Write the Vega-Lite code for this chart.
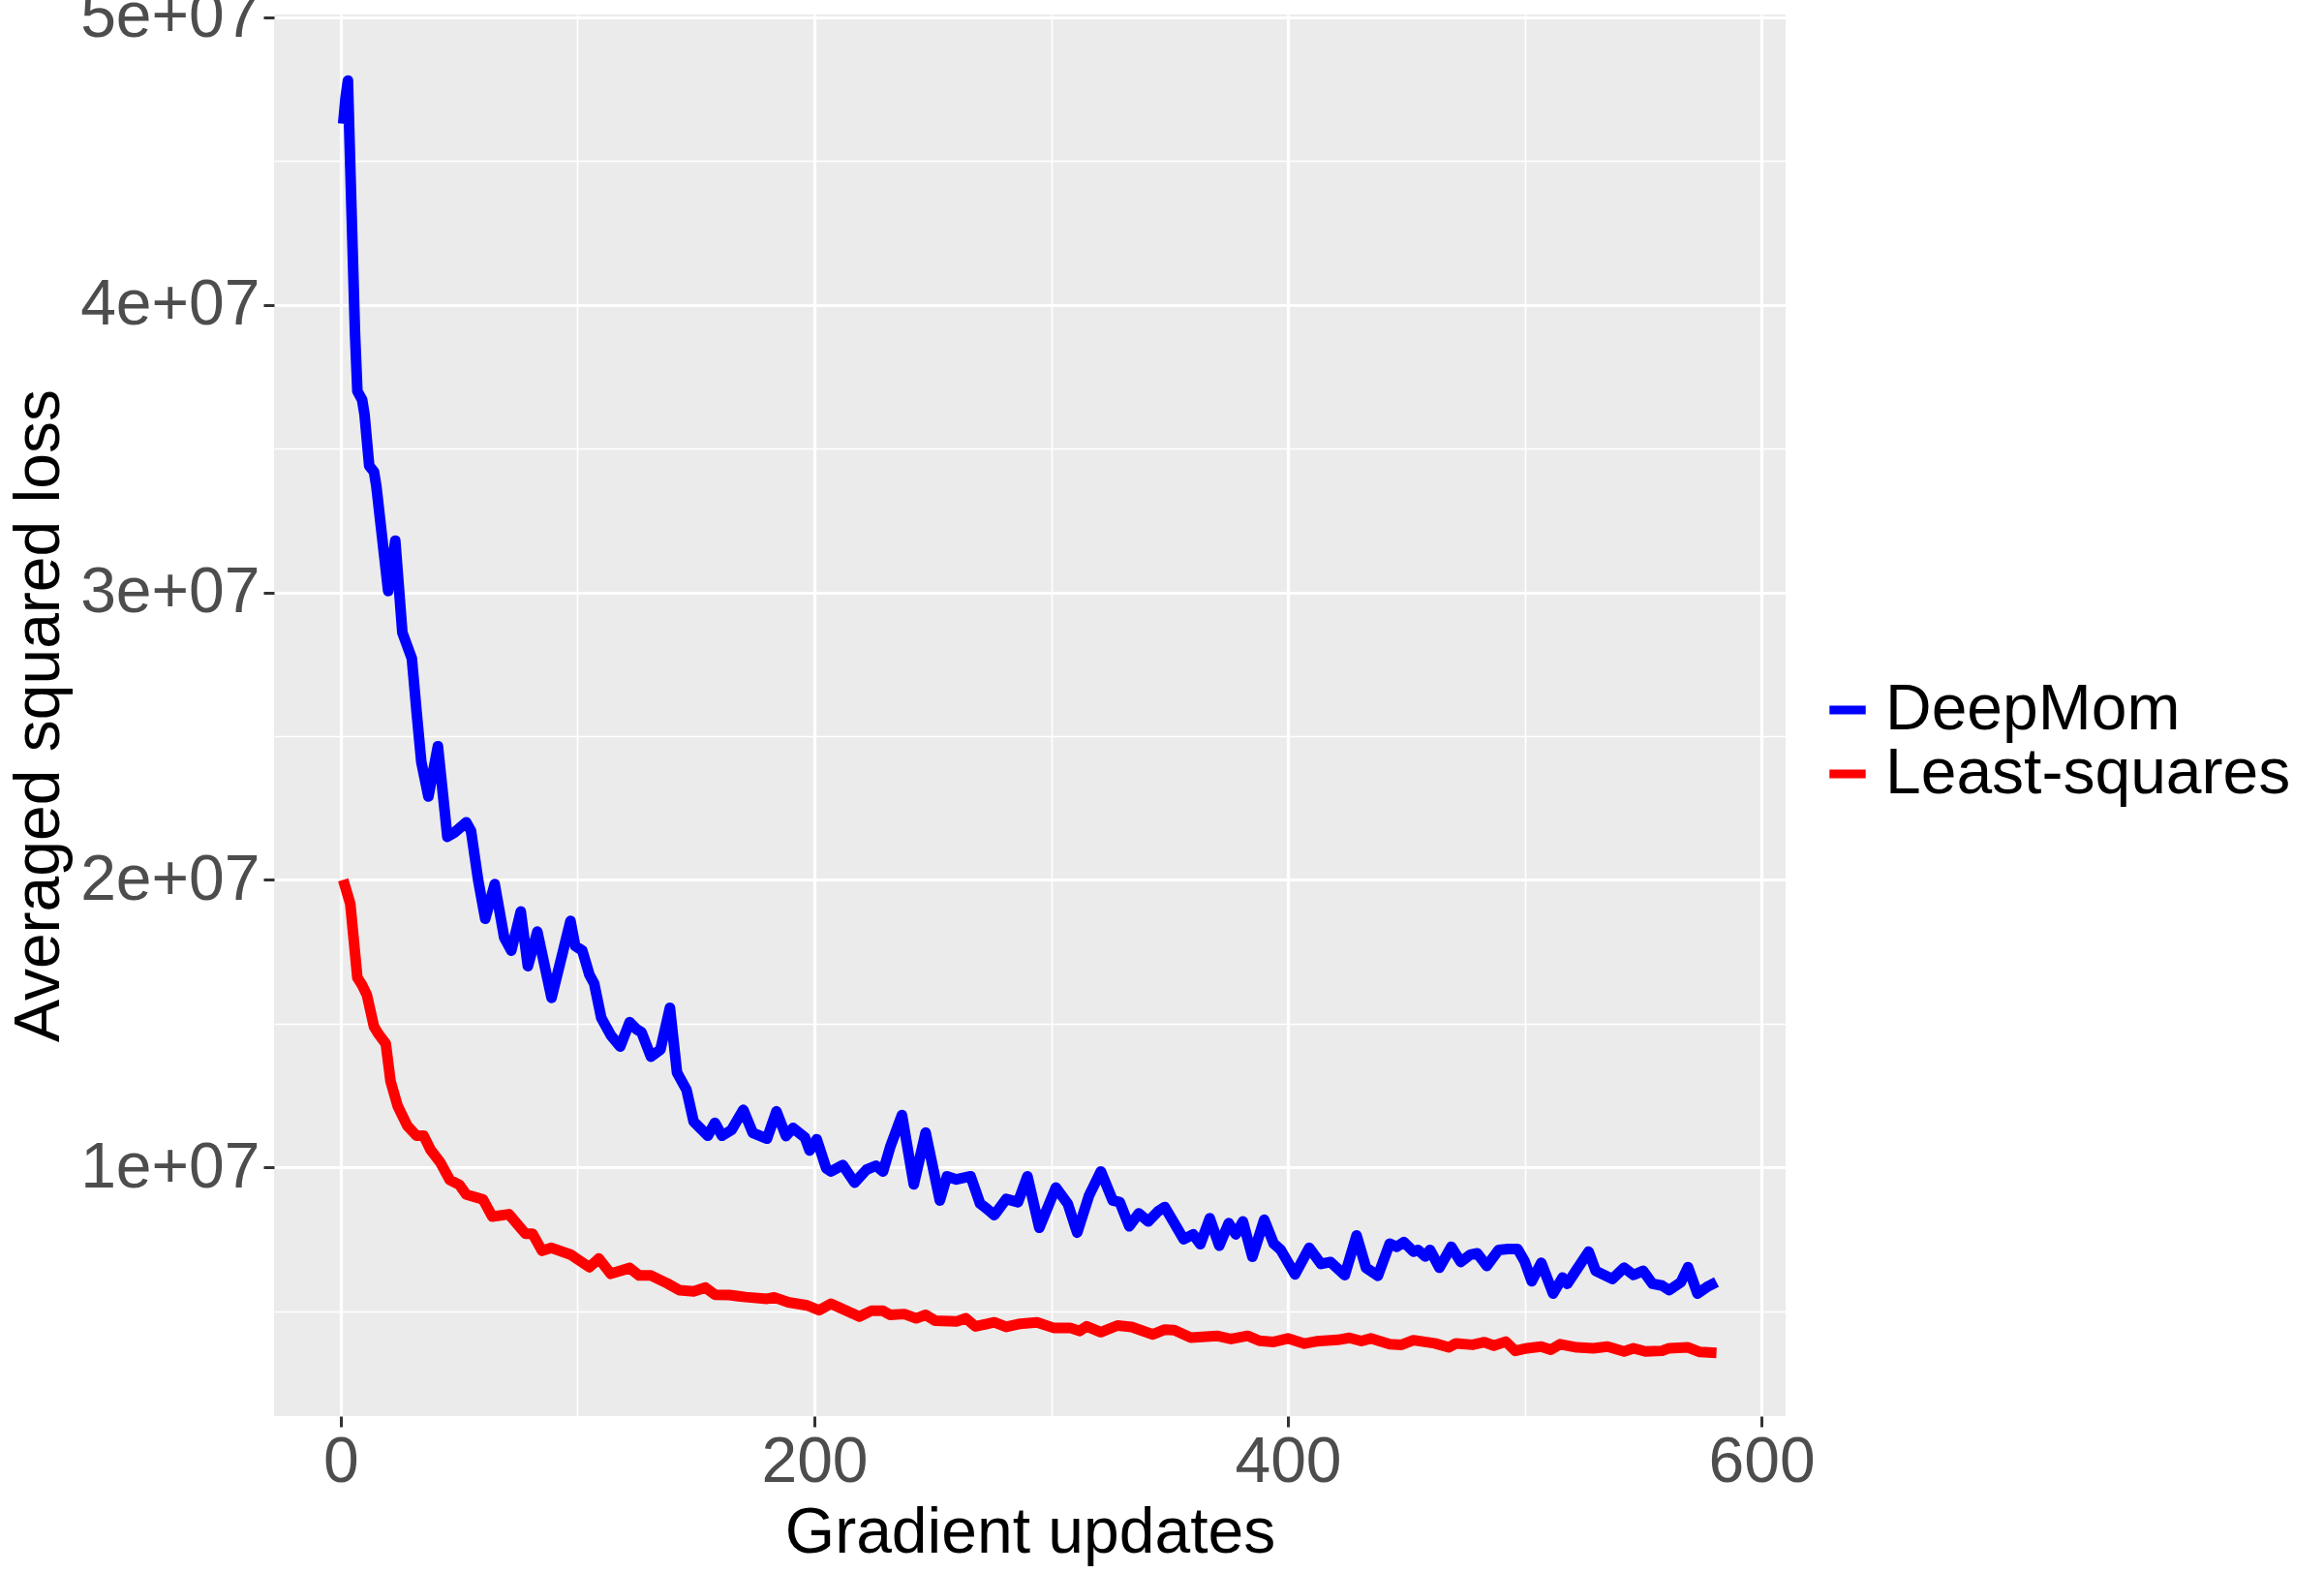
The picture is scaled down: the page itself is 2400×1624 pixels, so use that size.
{
  "$schema": "https://vega.github.io/schema/vega-lite/v6.json",
  "width": 1561,
  "height": 1447,
  "autosize": {"type": "none"},
  "padding": {"left": 283, "top": 15, "right": 556, "bottom": 162},
  "background": "white",
  "view": {"fill": "#EBEBEB", "stroke": null},
  "config": {
    "font": "Liberation Sans",
    "axis": {
      "domain": false,
      "labelFont": "Liberation Sans",
      "titleFont": "Liberation Sans",
      "labelFontSize": 66,
      "titleFontSize": 66,
      "labelColor": "#4D4D4D",
      "titleColor": "#000000",
      "titleFontWeight": "normal",
      "gridColor": "#FFFFFF",
      "gridOpacity": 1,
      "tickColor": "#333333",
      "tickWidth": 3,
      "tickSize": 11,
      "labelPadding": 4,
      "labelLimit": 1000,
      "labelFlush": false,
      "labelOverlap": false,
      "labelBound": false
    },
    "legend": {
      "labelFont": "Liberation Sans",
      "labelFontSize": 66,
      "labelColor": "#000000",
      "labelLimit": 1000
    }
  },
  "data": {
    "values": [
      {"step": 1, "loss": 46300000, "method": "DeepMom"},
      {"step": 2, "loss": 47200000, "method": "DeepMom"},
      {"step": 3, "loss": 47800000, "method": "DeepMom"},
      {"step": 4, "loss": 44800000, "method": "DeepMom"},
      {"step": 5, "loss": 41900000, "method": "DeepMom"},
      {"step": 6, "loss": 39000000, "method": "DeepMom"},
      {"step": 7, "loss": 37000000, "method": "DeepMom"},
      {"step": 9, "loss": 36700000, "method": "DeepMom"},
      {"step": 10, "loss": 36200000, "method": "DeepMom"},
      {"step": 12, "loss": 34400000, "method": "DeepMom"},
      {"step": 14, "loss": 34200000, "method": "DeepMom"},
      {"step": 15, "loss": 33700000, "method": "DeepMom"},
      {"step": 20, "loss": 30050000, "method": "DeepMom"},
      {"step": 23, "loss": 31800000, "method": "DeepMom"},
      {"step": 26, "loss": 28600000, "method": "DeepMom"},
      {"step": 30, "loss": 27700000, "method": "DeepMom"},
      {"step": 32, "loss": 25850000, "method": "DeepMom"},
      {"step": 34, "loss": 24100000, "method": "DeepMom"},
      {"step": 37, "loss": 22900000, "method": "DeepMom"},
      {"step": 41, "loss": 24650000, "method": "DeepMom"},
      {"step": 45, "loss": 21500000, "method": "DeepMom"},
      {"step": 48, "loss": 21650000, "method": "DeepMom"},
      {"step": 53, "loss": 22000000, "method": "DeepMom"},
      {"step": 55, "loss": 21700000, "method": "DeepMom"},
      {"step": 58, "loss": 20000000, "method": "DeepMom"},
      {"step": 61, "loss": 18650000, "method": "DeepMom"},
      {"step": 65, "loss": 19850000, "method": "DeepMom"},
      {"step": 69, "loss": 18000000, "method": "DeepMom"},
      {"step": 72, "loss": 17540000, "method": "DeepMom"},
      {"step": 76, "loss": 18900000, "method": "DeepMom"},
      {"step": 79, "loss": 17000000, "method": "DeepMom"},
      {"step": 83, "loss": 18200000, "method": "DeepMom"},
      {"step": 89, "loss": 15900000, "method": "DeepMom"},
      {"step": 97, "loss": 18570000, "method": "DeepMom"},
      {"step": 99, "loss": 17700000, "method": "DeepMom"},
      {"step": 102, "loss": 17540000, "method": "DeepMom"},
      {"step": 105, "loss": 16700000, "method": "DeepMom"},
      {"step": 107, "loss": 16400000, "method": "DeepMom"},
      {"step": 110, "loss": 15200000, "method": "DeepMom"},
      {"step": 114, "loss": 14600000, "method": "DeepMom"},
      {"step": 118, "loss": 14200000, "method": "DeepMom"},
      {"step": 122, "loss": 15050000, "method": "DeepMom"},
      {"step": 125, "loss": 14800000, "method": "DeepMom"},
      {"step": 127, "loss": 14700000, "method": "DeepMom"},
      {"step": 131, "loss": 13850000, "method": "DeepMom"},
      {"step": 135, "loss": 14100000, "method": "DeepMom"},
      {"step": 139, "loss": 15550000, "method": "DeepMom"},
      {"step": 142, "loss": 13300000, "method": "DeepMom"},
      {"step": 146, "loss": 12700000, "method": "DeepMom"},
      {"step": 149, "loss": 11600000, "method": "DeepMom"},
      {"step": 155, "loss": 11100000, "method": "DeepMom"},
      {"step": 158, "loss": 11550000, "method": "DeepMom"},
      {"step": 161, "loss": 11100000, "method": "DeepMom"},
      {"step": 165, "loss": 11300000, "method": "DeepMom"},
      {"step": 170, "loss": 12000000, "method": "DeepMom"},
      {"step": 174, "loss": 11200000, "method": "DeepMom"},
      {"step": 177, "loss": 11100000, "method": "DeepMom"},
      {"step": 180, "loss": 11000000, "method": "DeepMom"},
      {"step": 184, "loss": 11950000, "method": "DeepMom"},
      {"step": 188, "loss": 11090000, "method": "DeepMom"},
      {"step": 191, "loss": 11370000, "method": "DeepMom"},
      {"step": 196, "loss": 11040000, "method": "DeepMom"},
      {"step": 198, "loss": 10590000, "method": "DeepMom"},
      {"step": 201, "loss": 10980000, "method": "DeepMom"},
      {"step": 205, "loss": 9970000, "method": "DeepMom"},
      {"step": 207, "loss": 9860000, "method": "DeepMom"},
      {"step": 212, "loss": 10080000, "method": "DeepMom"},
      {"step": 217, "loss": 9470000, "method": "DeepMom"},
      {"step": 222, "loss": 9920000, "method": "DeepMom"},
      {"step": 226, "loss": 10060000, "method": "DeepMom"},
      {"step": 229, "loss": 9860000, "method": "DeepMom"},
      {"step": 232, "loss": 10700000, "method": "DeepMom"},
      {"step": 237, "loss": 11820000, "method": "DeepMom"},
      {"step": 242, "loss": 9410000, "method": "DeepMom"},
      {"step": 247, "loss": 11210000, "method": "DeepMom"},
      {"step": 253, "loss": 8850000, "method": "DeepMom"},
      {"step": 256, "loss": 9690000, "method": "DeepMom"},
      {"step": 260, "loss": 9580000, "method": "DeepMom"},
      {"step": 266, "loss": 9690000, "method": "DeepMom"},
      {"step": 270, "loss": 8740000, "method": "DeepMom"},
      {"step": 272, "loss": 8620000, "method": "DeepMom"},
      {"step": 276, "loss": 8340000, "method": "DeepMom"},
      {"step": 281, "loss": 8900000, "method": "DeepMom"},
      {"step": 286, "loss": 8790000, "method": "DeepMom"},
      {"step": 290, "loss": 9690000, "method": "DeepMom"},
      {"step": 295, "loss": 7900000, "method": "DeepMom"},
      {"step": 302, "loss": 9300000, "method": "DeepMom"},
      {"step": 307, "loss": 8740000, "method": "DeepMom"},
      {"step": 311, "loss": 7730000, "method": "DeepMom"},
      {"step": 316, "loss": 9020000, "method": "DeepMom"},
      {"step": 321, "loss": 9860000, "method": "DeepMom"},
      {"step": 326, "loss": 8850000, "method": "DeepMom"},
      {"step": 329, "loss": 8790000, "method": "DeepMom"},
      {"step": 333, "loss": 7950000, "method": "DeepMom"},
      {"step": 337, "loss": 8400000, "method": "DeepMom"},
      {"step": 341, "loss": 8120000, "method": "DeepMom"},
      {"step": 345, "loss": 8460000, "method": "DeepMom"},
      {"step": 348, "loss": 8620000, "method": "DeepMom"},
      {"step": 352, "loss": 8060000, "method": "DeepMom"},
      {"step": 356, "loss": 7500000, "method": "DeepMom"},
      {"step": 360, "loss": 7670000, "method": "DeepMom"},
      {"step": 363, "loss": 7330000, "method": "DeepMom"},
      {"step": 367, "loss": 8230000, "method": "DeepMom"},
      {"step": 371, "loss": 7280000, "method": "DeepMom"},
      {"step": 375, "loss": 8060000, "method": "DeepMom"},
      {"step": 378, "loss": 7670000, "method": "DeepMom"},
      {"step": 381, "loss": 8120000, "method": "DeepMom"},
      {"step": 385, "loss": 6890000, "method": "DeepMom"},
      {"step": 390, "loss": 8180000, "method": "DeepMom"},
      {"step": 394, "loss": 7350000, "method": "DeepMom"},
      {"step": 397, "loss": 7130000, "method": "DeepMom"},
      {"step": 403, "loss": 6280000, "method": "DeepMom"},
      {"step": 409, "loss": 7200000, "method": "DeepMom"},
      {"step": 414, "loss": 6640000, "method": "DeepMom"},
      {"step": 418, "loss": 6710000, "method": "DeepMom"},
      {"step": 424, "loss": 6250000, "method": "DeepMom"},
      {"step": 429, "loss": 7630000, "method": "DeepMom"},
      {"step": 433, "loss": 6510000, "method": "DeepMom"},
      {"step": 438, "loss": 6230000, "method": "DeepMom"},
      {"step": 443, "loss": 7350000, "method": "DeepMom"},
      {"step": 446, "loss": 7240000, "method": "DeepMom"},
      {"step": 449, "loss": 7400000, "method": "DeepMom"},
      {"step": 453, "loss": 7070000, "method": "DeepMom"},
      {"step": 455, "loss": 7130000, "method": "DeepMom"},
      {"step": 458, "loss": 6900000, "method": "DeepMom"},
      {"step": 460, "loss": 7130000, "method": "DeepMom"},
      {"step": 464, "loss": 6510000, "method": "DeepMom"},
      {"step": 469, "loss": 7240000, "method": "DeepMom"},
      {"step": 473, "loss": 6710000, "method": "DeepMom"},
      {"step": 477, "loss": 6960000, "method": "DeepMom"},
      {"step": 480, "loss": 7010000, "method": "DeepMom"},
      {"step": 484, "loss": 6570000, "method": "DeepMom"},
      {"step": 489, "loss": 7130000, "method": "DeepMom"},
      {"step": 493, "loss": 7160000, "method": "DeepMom"},
      {"step": 497, "loss": 7160000, "method": "DeepMom"},
      {"step": 500, "loss": 6730000, "method": "DeepMom"},
      {"step": 503, "loss": 6040000, "method": "DeepMom"},
      {"step": 507, "loss": 6680000, "method": "DeepMom"},
      {"step": 512, "loss": 5610000, "method": "DeepMom"},
      {"step": 516, "loss": 6170000, "method": "DeepMom"},
      {"step": 518, "loss": 5950000, "method": "DeepMom"},
      {"step": 522, "loss": 6450000, "method": "DeepMom"},
      {"step": 527, "loss": 7070000, "method": "DeepMom"},
      {"step": 530, "loss": 6400000, "method": "DeepMom"},
      {"step": 537, "loss": 6120000, "method": "DeepMom"},
      {"step": 542, "loss": 6510000, "method": "DeepMom"},
      {"step": 546, "loss": 6260000, "method": "DeepMom"},
      {"step": 550, "loss": 6400000, "method": "DeepMom"},
      {"step": 554, "loss": 5950000, "method": "DeepMom"},
      {"step": 558, "loss": 5890000, "method": "DeepMom"},
      {"step": 561, "loss": 5730000, "method": "DeepMom"},
      {"step": 566, "loss": 6010000, "method": "DeepMom"},
      {"step": 569, "loss": 6530000, "method": "DeepMom"},
      {"step": 573, "loss": 5610000, "method": "DeepMom"},
      {"step": 577, "loss": 5840000, "method": "DeepMom"},
      {"step": 581, "loss": 6010000, "method": "DeepMom"},
      {"step": 1, "loss": 20000000, "method": "Least-squares"},
      {"step": 4, "loss": 19170000, "method": "Least-squares"},
      {"step": 7, "loss": 16600000, "method": "Least-squares"},
      {"step": 9, "loss": 16340000, "method": "Least-squares"},
      {"step": 11, "loss": 16000000, "method": "Least-squares"},
      {"step": 14, "loss": 14900000, "method": "Least-squares"},
      {"step": 16, "loss": 14630000, "method": "Least-squares"},
      {"step": 19, "loss": 14300000, "method": "Least-squares"},
      {"step": 21, "loss": 13000000, "method": "Least-squares"},
      {"step": 24, "loss": 12140000, "method": "Least-squares"},
      {"step": 28, "loss": 11460000, "method": "Least-squares"},
      {"step": 32, "loss": 11100000, "method": "Least-squares"},
      {"step": 35, "loss": 11100000, "method": "Least-squares"},
      {"step": 38, "loss": 10600000, "method": "Least-squares"},
      {"step": 42, "loss": 10170000, "method": "Least-squares"},
      {"step": 46, "loss": 9570000, "method": "Least-squares"},
      {"step": 50, "loss": 9400000, "method": "Least-squares"},
      {"step": 53, "loss": 9060000, "method": "Least-squares"},
      {"step": 60, "loss": 8890000, "method": "Least-squares"},
      {"step": 64, "loss": 8290000, "method": "Least-squares"},
      {"step": 71, "loss": 8370000, "method": "Least-squares"},
      {"step": 78, "loss": 7690000, "method": "Least-squares"},
      {"step": 81, "loss": 7690000, "method": "Least-squares"},
      {"step": 85, "loss": 7100000, "method": "Least-squares"},
      {"step": 89, "loss": 7200000, "method": "Least-squares"},
      {"step": 97, "loss": 6970000, "method": "Least-squares"},
      {"step": 101, "loss": 6750000, "method": "Least-squares"},
      {"step": 105, "loss": 6530000, "method": "Least-squares"},
      {"step": 109, "loss": 6830000, "method": "Least-squares"},
      {"step": 114, "loss": 6300000, "method": "Least-squares"},
      {"step": 122, "loss": 6500000, "method": "Least-squares"},
      {"step": 126, "loss": 6240000, "method": "Least-squares"},
      {"step": 131, "loss": 6240000, "method": "Least-squares"},
      {"step": 138, "loss": 5960000, "method": "Least-squares"},
      {"step": 143, "loss": 5730000, "method": "Least-squares"},
      {"step": 149, "loss": 5690000, "method": "Least-squares"},
      {"step": 154, "loss": 5820000, "method": "Least-squares"},
      {"step": 158, "loss": 5570000, "method": "Least-squares"},
      {"step": 164, "loss": 5560000, "method": "Least-squares"},
      {"step": 171, "loss": 5490000, "method": "Least-squares"},
      {"step": 180, "loss": 5430000, "method": "Least-squares"},
      {"step": 183, "loss": 5480000, "method": "Least-squares"},
      {"step": 189, "loss": 5310000, "method": "Least-squares"},
      {"step": 197, "loss": 5200000, "method": "Least-squares"},
      {"step": 202, "loss": 5030000, "method": "Least-squares"},
      {"step": 207, "loss": 5260000, "method": "Least-squares"},
      {"step": 219, "loss": 4810000, "method": "Least-squares"},
      {"step": 224, "loss": 5010000, "method": "Least-squares"},
      {"step": 229, "loss": 5010000, "method": "Least-squares"},
      {"step": 232, "loss": 4870000, "method": "Least-squares"},
      {"step": 238, "loss": 4900000, "method": "Least-squares"},
      {"step": 243, "loss": 4750000, "method": "Least-squares"},
      {"step": 247, "loss": 4870000, "method": "Least-squares"},
      {"step": 251, "loss": 4670000, "method": "Least-squares"},
      {"step": 260, "loss": 4640000, "method": "Least-squares"},
      {"step": 264, "loss": 4750000, "method": "Least-squares"},
      {"step": 268, "loss": 4470000, "method": "Least-squares"},
      {"step": 276, "loss": 4610000, "method": "Least-squares"},
      {"step": 281, "loss": 4450000, "method": "Least-squares"},
      {"step": 287, "loss": 4560000, "method": "Least-squares"},
      {"step": 294, "loss": 4610000, "method": "Least-squares"},
      {"step": 301, "loss": 4420000, "method": "Least-squares"},
      {"step": 308, "loss": 4420000, "method": "Least-squares"},
      {"step": 312, "loss": 4310000, "method": "Least-squares"},
      {"step": 315, "loss": 4470000, "method": "Least-squares"},
      {"step": 321, "loss": 4270000, "method": "Least-squares"},
      {"step": 328, "loss": 4500000, "method": "Least-squares"},
      {"step": 334, "loss": 4450000, "method": "Least-squares"},
      {"step": 343, "loss": 4190000, "method": "Least-squares"},
      {"step": 348, "loss": 4360000, "method": "Least-squares"},
      {"step": 352, "loss": 4340000, "method": "Least-squares"},
      {"step": 359, "loss": 4080000, "method": "Least-squares"},
      {"step": 370, "loss": 4140000, "method": "Least-squares"},
      {"step": 376, "loss": 4030000, "method": "Least-squares"},
      {"step": 383, "loss": 4140000, "method": "Least-squares"},
      {"step": 388, "loss": 3970000, "method": "Least-squares"},
      {"step": 394, "loss": 3930000, "method": "Least-squares"},
      {"step": 400, "loss": 4050000, "method": "Least-squares"},
      {"step": 407, "loss": 3870000, "method": "Least-squares"},
      {"step": 412, "loss": 3950000, "method": "Least-squares"},
      {"step": 421, "loss": 4000000, "method": "Least-squares"},
      {"step": 426, "loss": 4070000, "method": "Least-squares"},
      {"step": 431, "loss": 3960000, "method": "Least-squares"},
      {"step": 435, "loss": 4050000, "method": "Least-squares"},
      {"step": 443, "loss": 3850000, "method": "Least-squares"},
      {"step": 448, "loss": 3830000, "method": "Least-squares"},
      {"step": 453, "loss": 3990000, "method": "Least-squares"},
      {"step": 462, "loss": 3880000, "method": "Least-squares"},
      {"step": 468, "loss": 3740000, "method": "Least-squares"},
      {"step": 471, "loss": 3880000, "method": "Least-squares"},
      {"step": 478, "loss": 3830000, "method": "Least-squares"},
      {"step": 483, "loss": 3920000, "method": "Least-squares"},
      {"step": 487, "loss": 3800000, "method": "Least-squares"},
      {"step": 492, "loss": 3940000, "method": "Least-squares"},
      {"step": 496, "loss": 3620000, "method": "Least-squares"},
      {"step": 501, "loss": 3710000, "method": "Least-squares"},
      {"step": 507, "loss": 3770000, "method": "Least-squares"},
      {"step": 511, "loss": 3660000, "method": "Least-squares"},
      {"step": 515, "loss": 3850000, "method": "Least-squares"},
      {"step": 522, "loss": 3740000, "method": "Least-squares"},
      {"step": 529, "loss": 3710000, "method": "Least-squares"},
      {"step": 535, "loss": 3770000, "method": "Least-squares"},
      {"step": 542, "loss": 3600000, "method": "Least-squares"},
      {"step": 546, "loss": 3710000, "method": "Least-squares"},
      {"step": 551, "loss": 3600000, "method": "Least-squares"},
      {"step": 558, "loss": 3620000, "method": "Least-squares"},
      {"step": 561, "loss": 3710000, "method": "Least-squares"},
      {"step": 569, "loss": 3740000, "method": "Least-squares"},
      {"step": 574, "loss": 3580000, "method": "Least-squares"},
      {"step": 581, "loss": 3550000, "method": "Least-squares"}
    ]
  },
  "mark": {"type": "line", "strokeWidth": 11, "strokeJoin": "round", "strokeCap": "butt"},
  "encoding": {
    "x": {
      "field": "step",
      "type": "quantitative",
      "scale": {"domain": [-28.2, 610.2], "nice": false, "zero": false},
      "axis": {
        "title": "Gradient updates",
        "values": [0, 100, 200, 300, 400, 500, 600],
        "labelExpr": "datum.value % 200 === 0 ? datum.label : ''",
        "gridWidth": {"condition": {"test": "datum.value % 200 === 0", "value": 3.2}, "value": 1.6},
        "tickOpacity": {"condition": {"test": "datum.value % 200 === 0", "value": 1}, "value": 0},
        "titlePadding": 8
      }
    },
    "y": {
      "field": "loss",
      "type": "quantitative",
      "scale": {"domain": [1350000, 50100000], "nice": false, "zero": false},
      "axis": {
        "title": "Averaged squared loss",
        "values": [5000000, 10000000, 15000000, 20000000, 25000000, 30000000, 35000000, 40000000, 45000000, 50000000],
        "labelExpr": "datum.value % 10000000 === 0 ? (datum.value / 10000000) + 'e+07' : ''",
        "gridWidth": {"condition": {"test": "datum.value % 10000000 === 0", "value": 3.2}, "value": 1.6},
        "tickOpacity": {"condition": {"test": "datum.value % 10000000 === 0", "value": 1}, "value": 0},
        "titlePadding": 9
      }
    },
    "color": {
      "field": "method",
      "type": "nominal",
      "scale": {"domain": ["DeepMom", "Least-squares"], "range": ["#0000FF", "#FF0000"]},
      "legend": {
        "title": null,
        "orient": "none",
        "legendX": 1592,
        "legendY": 685,
        "padding": 0,
        "symbolType": "stroke",
        "symbolSize": 1400,
        "symbolStrokeWidth": 9,
        "labelOffset": 6,
        "rowPadding": 0,
        "labelFontSize": 66,
        "labelLimit": 1000
      }
    }
  }
}
